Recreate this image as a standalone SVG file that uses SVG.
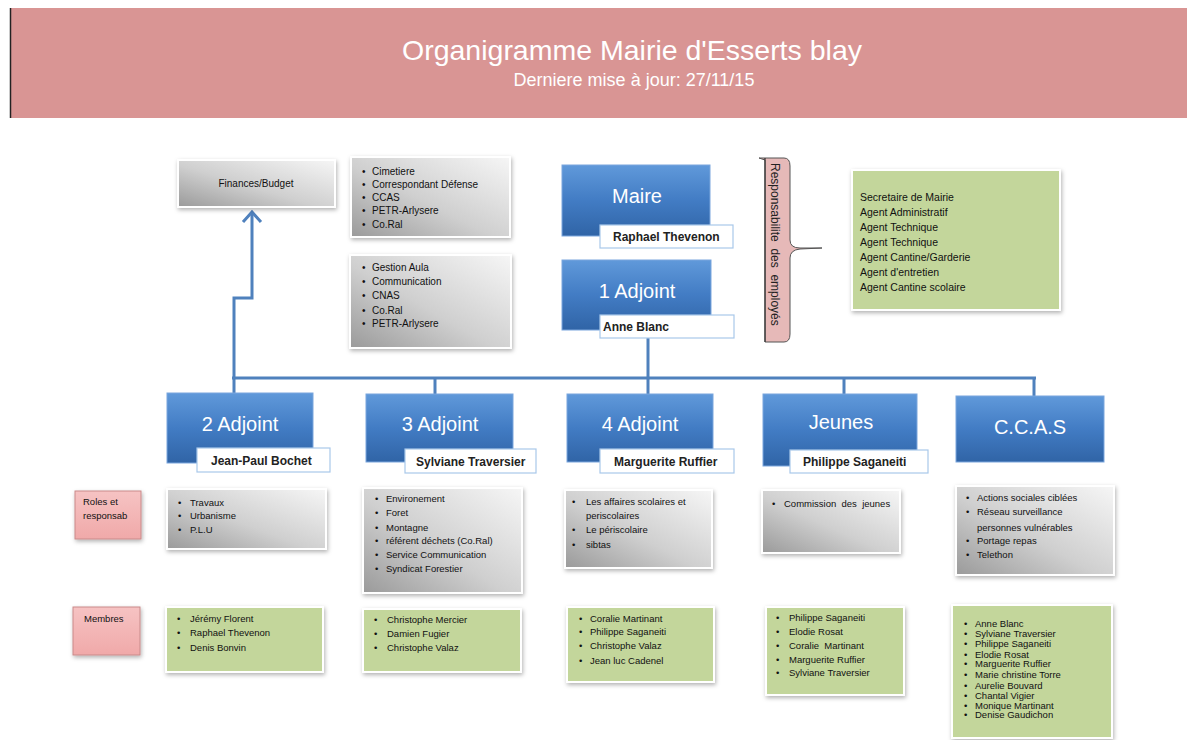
<svg xmlns="http://www.w3.org/2000/svg" width="1187" height="740" viewBox="0 0 1187 740">
<defs>
<style>
text{font-family:"Liberation Sans",Arial,sans-serif;fill:#111}
.t{font-size:10px}
.s{font-size:9.5px}
.b{font-size:20px;fill:#fff}
.nm{font-size:12px;font-weight:bold;fill:#222}
.blue{fill:url(#gb);stroke:#7aa6dd;stroke-width:1}
.gray{fill:url(#gg);stroke:#fff;stroke-width:2;filter:url(#sh)}
.green{fill:#c3d69b;stroke:#fff;stroke-width:2;filter:url(#sh)}
.pink{fill:url(#gp);stroke:#c98a8a;stroke-width:1;filter:url(#sh)}
.lab{fill:#fff;stroke:#a9c8ea;stroke-width:1.2}
.con{fill:none;stroke:#4f81bd;stroke-width:3}
</style>
<linearGradient id="gb" x1="0" y1="0" x2="0" y2="1"><stop offset="0" stop-color="#6099da"/><stop offset="0.5" stop-color="#427cc4"/><stop offset="1" stop-color="#3064a6"/></linearGradient>
<linearGradient id="gg" x1="1" y1="0" x2="0" y2="1"><stop offset="0" stop-color="#f6f6f6"/><stop offset="0.55" stop-color="#cfcfcf"/><stop offset="1" stop-color="#9a9a9a"/></linearGradient>
<linearGradient id="gp" x1="0" y1="0" x2="0" y2="1"><stop offset="0" stop-color="#f6c3c3"/><stop offset="1" stop-color="#f0a9a9"/></linearGradient>
<filter id="sh" x="-10%" y="-10%" width="125%" height="130%"><feDropShadow dx="1" dy="2" stdDeviation="2" flood-color="#000" flood-opacity="0.3"/></filter>
</defs>
<rect width="1187" height="740" fill="#fff"/>
<g id="header">
<rect x="10" y="8" width="1177" height="110" fill="#d99594"/>
<line x1="10.5" y1="8" x2="10.5" y2="118" stroke="#222" stroke-width="1.5"/>
<text x="632" y="60" text-anchor="middle" style="font-size:28.5px;fill:#fff">Organigramme Mairie d'Esserts blay</text>
<text x="634" y="86" text-anchor="middle" style="font-size:18px;fill:#fff">Derniere mise à jour: 27/11/15</text>
</g>
<g id="connectors">
<polyline class="con" points="234,393 234,298 252,298 252,212"/>
<polyline class="con" points="243,222 252,212 261,222"/>
<line class="con" x1="232" y1="378" x2="1036" y2="378"/>
<line class="con" x1="435" y1="378" x2="435" y2="394"/>
<line class="con" x1="648" y1="338" x2="648" y2="394"/>
<line class="con" x1="844" y1="378" x2="844" y2="394"/>
<line class="con" x1="1034" y1="378" x2="1034" y2="396"/>
</g>
<g id="finances"><rect class="gray" x="178" y="160" width="157" height="47"/><text class="t" x="256" y="187" text-anchor="middle">Finances/Budget</text></g>
<g id="list1"><rect class="gray" x="351" y="157" width="159" height="80"/>
<text class="t"><tspan x="362" y="175">•</tspan><tspan x="372" y="175">Cimetiere</tspan><tspan x="362" y="188">•</tspan><tspan x="372" y="188">Correspondant Défense</tspan><tspan x="362" y="201">•</tspan><tspan x="372" y="201">CCAS</tspan><tspan x="362" y="214">•</tspan><tspan x="372" y="214">PETR-Arlysere</tspan><tspan x="362" y="228">•</tspan><tspan x="372" y="228">Co.Ral</tspan></text></g>
<g id="list2"><rect class="gray" x="350" y="255" width="161" height="93"/>
<text class="t"><tspan x="362" y="271">•</tspan><tspan x="372" y="271">Gestion Aula</tspan><tspan x="362" y="285">•</tspan><tspan x="372" y="285">Communication</tspan><tspan x="362" y="299">•</tspan><tspan x="372" y="299">CNAS</tspan><tspan x="362" y="314">•</tspan><tspan x="372" y="314">Co.Ral</tspan><tspan x="362" y="327">•</tspan><tspan x="372" y="327">PETR-Arlysere</tspan></text></g>
<g id="maire"><rect class="blue" x="562" y="165" width="148" height="71"/><text class="b" x="637" y="203" text-anchor="middle">Maire</text>
<rect class="lab" x="600" y="225" width="133" height="23"/><text class="nm" x="613" y="241">Raphael Thevenon</text></g>
<g id="adjoint1"><rect class="blue" x="562" y="260" width="149" height="70"/><text class="b" x="637" y="298" text-anchor="middle">1 Adjoint</text>
<rect class="lab" x="600" y="315" width="134" height="23"/><text class="nm" x="603" y="331">Anne Blanc</text></g>
<g id="responsabilite">
<path d="M759,158 L784,158 Q790,158 790,166 L790,240 Q790,248 800,248 L822,248 L800,249 Q790,250 790,258 L790,334 Q790,342 784,342 L765,342 L765,160 Z" fill="#e6b9b8" stroke="#555" stroke-width="1"/>
<line x1="765" y1="158" x2="765" y2="342" stroke="#333" stroke-width="1.2"/>
<text transform="translate(771,163) rotate(90)" style="font-size:12px;fill:#222" xml:space="preserve">Responsabilite  des  employés</text>
</g>
<g id="employes"><rect class="green" x="852" y="170" width="208" height="140"/>
<text style="font-size:10.5px"><tspan x="860" y="201">Secretaire de Mairie</tspan><tspan x="860" y="216">Agent Administratif</tspan><tspan x="860" y="231">Agent Technique</tspan><tspan x="860" y="246">Agent Technique</tspan><tspan x="860" y="261">Agent Cantine/Garderie</tspan><tspan x="860" y="276">Agent d'entretien</tspan><tspan x="860" y="291">Agent Cantine scolaire</tspan></text></g>
<g id="adjoint2"><rect class="blue" x="167" y="393" width="146" height="70"/><text class="b" x="240" y="431" text-anchor="middle">2 Adjoint</text>
<rect class="lab" x="197" y="448" width="133" height="24"/><text class="nm" x="211" y="465">Jean-Paul Bochet</text></g>
<g id="adjoint3"><rect class="blue" x="366" y="394" width="147" height="68"/><text class="b" x="440" y="431" text-anchor="middle">3 Adjoint</text>
<rect class="lab" x="405" y="449" width="131" height="24"/><text class="nm" x="416" y="466">Sylviane Traversier</text></g>
<g id="adjoint4"><rect class="blue" x="567" y="394" width="146" height="68"/><text class="b" x="640" y="431" text-anchor="middle">4 Adjoint</text>
<rect class="lab" x="600" y="449" width="134" height="24"/><text class="nm" x="614" y="466">Marguerite Ruffier</text></g>
<g id="jeunes"><rect class="blue" x="763" y="394" width="154" height="72"/><text class="b" x="841" y="429" text-anchor="middle">Jeunes</text>
<rect class="lab" x="790" y="450" width="138" height="23"/><text class="nm" x="803" y="466">Philippe Saganeiti</text></g>
<g id="ccas"><rect class="blue" x="956" y="396" width="148" height="66"/><text class="b" x="1030" y="434" text-anchor="middle">C.C.A.S</text></g>
<g id="roles-label"><rect class="pink" x="75" y="491" width="66" height="48"/><text class="s"><tspan x="83" y="505">Roles et</tspan><tspan x="83" y="519">responsab</tspan></text></g>
<g id="roles2"><rect class="gray" x="167" y="489" width="159" height="60"/>
<text class="s"><tspan x="178" y="506">•</tspan><tspan x="190" y="506">Travaux</tspan><tspan x="178" y="519">•</tspan><tspan x="190" y="519">Urbanisme</tspan><tspan x="178" y="533">•</tspan><tspan x="190" y="533">P.L.U</tspan></text></g>
<g id="roles3"><rect class="gray" x="363" y="488" width="159" height="105"/>
<text class="s"><tspan x="375" y="502">•</tspan><tspan x="386" y="502">Environement</tspan><tspan x="375" y="516">•</tspan><tspan x="386" y="516">Foret</tspan><tspan x="375" y="531">•</tspan><tspan x="386" y="531">Montagne</tspan><tspan x="375" y="544">•</tspan><tspan x="386" y="544">référent déchets (Co.Ral)</tspan><tspan x="375" y="558">•</tspan><tspan x="386" y="558">Service Communication</tspan><tspan x="375" y="572">•</tspan><tspan x="386" y="572">Syndicat Forestier</tspan></text></g>
<g id="roles4"><rect class="gray" x="565" y="490" width="147" height="78"/>
<text class="s"><tspan x="572" y="505">•</tspan><tspan x="586" y="505">Les affaires scolaires et</tspan><tspan x="586" y="519">periscolaires</tspan><tspan x="572" y="533">•</tspan><tspan x="586" y="533">Le périscolaire</tspan><tspan x="572" y="548">•</tspan><tspan x="586" y="548">sibtas</tspan></text></g>
<g id="rolesJeunes"><rect class="gray" x="762" y="490" width="138" height="63"/>
<text class="s" xml:space="preserve"><tspan x="772" y="507">•</tspan><tspan x="784" y="507">Commission  des  jeunes</tspan></text></g>
<g id="rolesCcas"><rect class="gray" x="956" y="486" width="158" height="89"/>
<text class="s"><tspan x="966" y="501">•</tspan><tspan x="977" y="501">Actions sociales ciblées</tspan><tspan x="966" y="515">•</tspan><tspan x="977" y="515">Réseau surveillance</tspan><tspan x="977" y="531">personnes vulnérables</tspan><tspan x="966" y="544">•</tspan><tspan x="977" y="544">Portage repas</tspan><tspan x="966" y="558">•</tspan><tspan x="977" y="558">Telethon</tspan></text></g>
<g id="membres-label"><rect class="pink" x="73" y="607" width="67" height="48"/><text class="s" x="84" y="622">Membres</text></g>
<g id="membres2"><rect class="green" x="166" y="607" width="157" height="65"/>
<text class="s"><tspan x="177" y="622">•</tspan><tspan x="190" y="622">Jérémy Florent</tspan><tspan x="177" y="636">•</tspan><tspan x="190" y="636">Raphael Thevenon</tspan><tspan x="177" y="651">•</tspan><tspan x="190" y="651">Denis Bonvin</tspan></text></g>
<g id="membres3"><rect class="green" x="363" y="609" width="158" height="63"/>
<text class="s"><tspan x="374" y="623">•</tspan><tspan x="387" y="623">Christophe Mercier</tspan><tspan x="374" y="637">•</tspan><tspan x="387" y="637">Damien Fugier</tspan><tspan x="374" y="651">•</tspan><tspan x="387" y="651">Christophe Valaz</tspan></text></g>
<g id="membres4"><rect class="green" x="567" y="607" width="147" height="75"/>
<text class="s"><tspan x="579" y="622">•</tspan><tspan x="590" y="622">Coralie Martinant</tspan><tspan x="579" y="635">•</tspan><tspan x="590" y="635">Philippe Saganeiti</tspan><tspan x="579" y="649">•</tspan><tspan x="590" y="649">Christophe Valaz</tspan><tspan x="579" y="664">•</tspan><tspan x="590" y="664">Jean luc Cadenel</tspan></text></g>
<g id="membresJeunes"><rect class="green" x="766" y="607" width="138" height="88"/>
<text class="s" xml:space="preserve"><tspan x="776" y="621">•</tspan><tspan x="789" y="621">Philippe Saganeiti</tspan><tspan x="776" y="635">•</tspan><tspan x="789" y="635">Elodie Rosat</tspan><tspan x="776" y="649">•</tspan><tspan x="789" y="649">Coralie  Martinant</tspan><tspan x="776" y="663">•</tspan><tspan x="789" y="663">Marguerite Ruffier</tspan><tspan x="776" y="676">•</tspan><tspan x="789" y="676">Sylviane Traversier</tspan></text></g>
<g id="membresCcas"><rect class="green" x="952" y="605" width="160" height="133"/>
<text style="font-size:9.5px"><tspan x="964" y="627">•</tspan><tspan x="975" y="627">Anne Blanc</tspan><tspan x="964" y="637">•</tspan><tspan x="975" y="637">Sylviane Traversier</tspan><tspan x="964" y="647">•</tspan><tspan x="975" y="647">Philippe Saganeiti</tspan><tspan x="964" y="658">•</tspan><tspan x="975" y="658">Elodie Rosat</tspan><tspan x="964" y="667">•</tspan><tspan x="975" y="667">Marguerite Ruffier</tspan><tspan x="964" y="678">•</tspan><tspan x="975" y="678">Marie christine Torre</tspan><tspan x="964" y="689">•</tspan><tspan x="975" y="689">Aurelie Bouvard</tspan><tspan x="964" y="699">•</tspan><tspan x="975" y="699">Chantal Vigier</tspan><tspan x="964" y="709">•</tspan><tspan x="975" y="709">Monique Martinant</tspan><tspan x="964" y="718">•</tspan><tspan x="975" y="718">Denise Gaudichon</tspan></text></g>
</svg>
